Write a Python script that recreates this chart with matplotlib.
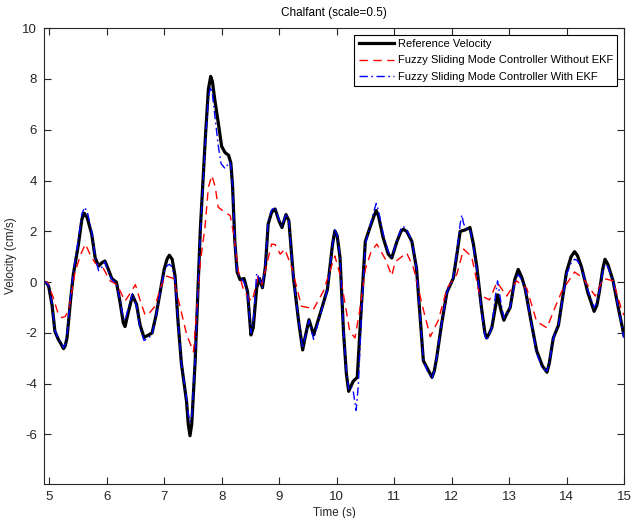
import numpy as np
import matplotlib
matplotlib.use('Agg')
import matplotlib.pyplot as plt

plt.rcParams['font.family'] = ['Liberation Sans', 'DejaVu Sans']
plt.rcParams['font.size'] = 8
plt.rcParams['axes.unicode_minus'] = False

# velocidad de referencia (tiempo, velocidad)
ref = [(4.90, 0.0), (4.95, -0.02), (4.99, -0.15), (5.05, -0.9), (5.10, -1.94), (5.16, -2.26),
       (5.21, -2.45), (5.25, -2.62), (5.28, -2.5), (5.31, -2.2), (5.37, -0.75), (5.42, 0.3),
       (5.51, 1.5), (5.57, 2.49), (5.61, 2.71), (5.66, 2.55), (5.74, 1.89), (5.80, 0.96),
       (5.86, 0.63), (5.92, 0.77), (5.97, 0.83), (6.03, 0.5), (6.09, 0.14), (6.17, 0.0),
       (6.23, -0.75), (6.29, -1.61), (6.32, -1.75), (6.38, -1.15), (6.45, -0.52), (6.52, -0.88),
       (6.58, -1.68), (6.65, -2.18), (6.73, -2.08), (6.79, -2.0), (6.86, -1.3), (6.93, -0.4),
       (7.00, 0.5), (7.05, 0.9), (7.09, 1.06), (7.14, 0.9), (7.19, 0.24), (7.24, -1.5),
       (7.30, -3.2), (7.39, -4.7), (7.42, -5.6), (7.45, -6.05), (7.48, -5.6), (7.54, -3.1),
       (7.63, 2.1), (7.72, 5.8), (7.77, 7.6), (7.81, 8.1), (7.84, 7.9), (7.88, 7.2),
       (7.94, 6.3), (8.00, 5.35), (8.06, 5.1), (8.12, 5.0), (8.16, 4.7), (8.19, 3.8),
       (8.23, 1.6), (8.27, 0.4), (8.32, 0.1), (8.39, 0.14), (8.45, -0.36), (8.51, -2.08),
       (8.55, -1.8), (8.61, -0.23), (8.66, 0.14), (8.71, -0.22), (8.76, 0.57), (8.81, 2.29),
       (8.87, 2.75), (8.93, 2.88), (9.00, 2.4), (9.05, 2.15), (9.12, 2.66), (9.17, 2.42),
       (9.25, 0.17), (9.34, -1.55), (9.41, -2.67), (9.45, -2.2), (9.52, -1.48), (9.60, -2.08),
       (9.71, -1.28), (9.84, -0.29), (9.93, 1.5), (9.97, 2.02), (10.01, 1.83), (10.06, 0.96),
       (10.12, -1.94), (10.17, -3.6), (10.21, -4.3), (10.25, -4.1), (10.29, -3.9), (10.36, -3.75),
       (10.43, -1.0), (10.50, 1.6), (10.58, 2.15), (10.65, 2.6), (10.69, 2.82), (10.73, 2.6),
       (10.81, 1.75), (10.90, 1.1), (10.96, 0.95), (11.05, 1.6), (11.12, 2.0), (11.16, 2.08),
       (11.22, 2.0), (11.31, 1.6), (11.39, 0.55), (11.51, -3.1), (11.58, -3.4), (11.66, -3.75),
       (11.70, -3.5), (11.74, -3.0), (11.83, -1.6), (11.92, -0.4), (12.03, 0.15), (12.10, 1.2),
       (12.15, 2.0), (12.23, 2.05), (12.32, 2.15), (12.38, 1.5), (12.44, 0.6), (12.52, -1.0),
       (12.58, -2.0), (12.61, -2.2), (12.65, -2.05), (12.70, -1.8), (12.80, -0.5), (12.86, -1.1),
       (12.91, -1.5), (12.95, -1.3), (13.02, -1.0), (13.10, 0.1), (13.16, 0.5), (13.22, 0.2),
       (13.28, -0.25), (13.38, -1.5), (13.48, -2.7), (13.58, -3.3), (13.66, -3.55), (13.70, -3.2),
       (13.77, -2.2), (13.86, -1.7), (14.00, 0.4), (14.08, 1.0), (14.14, 1.2), (14.19, 1.05),
       (14.26, 0.6), (14.37, -0.4), (14.48, -1.15), (14.53, -0.9), (14.57, -0.4), (14.63, 0.5),
       (14.67, 0.9), (14.72, 0.7), (14.81, 0.05), (14.90, -1.0), (15.00, -2.1)]

# controlador sin EKF
sin_ekf = [(4.90, 0.0), (4.97, 0.0), (5.07, -0.6), (5.15, -1.2), (5.22, -1.4), (5.28, -1.35),
           (5.34, -1.1), (5.45, 0.4), (5.55, 1.1), (5.63, 1.5), (5.71, 1.1), (5.80, 0.75),
           (5.94, 0.55), (6.06, 0.05), (6.18, -0.1), (6.32, -0.75), (6.42, -0.4), (6.50, -0.1),
           (6.58, -0.7), (6.67, -1.3), (6.75, -1.2), (6.84, -0.95), (6.94, -0.2), (7.02, 0.25),
           (7.16, 0.15), (7.28, -1.0), (7.39, -2.05), (7.51, -2.75), (7.57, -1.0), (7.63, 0.8),
           (7.71, 2.15), (7.77, 3.74), (7.83, 4.2), (7.89, 3.74), (7.94, 2.95), (8.06, 2.75),
           (8.15, 2.62), (8.21, 1.89), (8.29, 0.44), (8.38, -0.3), (8.47, -0.62), (8.53, -0.75),
           (8.64, 0.24), (8.70, -0.09), (8.87, 1.5), (8.93, 1.48), (9.02, 1.1), (9.10, 1.3),
           (9.22, 0.57), (9.39, -0.95), (9.54, -1.02), (9.59, -1.1), (9.77, -0.36), (9.97, 1.03),
           (10.06, 0.3), (10.23, -1.94), (10.32, -2.2), (10.40, -1.15), (10.50, 0.5), (10.60, 1.2),
           (10.70, 1.5), (10.85, 0.9), (10.96, 0.25), (11.02, 0.8), (11.22, 1.15), (11.34, 0.55),
           (11.50, -1.0), (11.63, -2.15), (11.77, -1.5), (11.92, -0.25), (12.09, 0.3), (12.21, 1.3),
           (12.35, 1.0), (12.49, -0.5), (12.66, -0.7), (12.79, 0.0), (12.96, -0.55), (13.13, 0.05),
           (13.31, -0.25), (13.48, -1.55), (13.66, -1.8), (13.80, -1.0), (13.92, -0.35), (14.14, 0.4),
           (14.29, 0.15), (14.50, -0.55), (14.64, 0.15), (14.81, 0.05), (14.96, -1.1), (15.00, -1.3)]

# controlador con EKF
con_ekf = [(4.90, 0.0), (4.95, -0.02), (4.99, -0.15), (5.05, -0.85), (5.10, -1.9), (5.16, -2.25),
           (5.21, -2.4), (5.25, -2.58), (5.28, -2.45), (5.31, -2.1), (5.37, -0.6), (5.42, 0.4),
           (5.51, 1.7), (5.57, 2.7), (5.62, 2.95), (5.67, 2.7), (5.74, 2.0), (5.80, 1.0),
           (5.86, 0.45), (5.92, 0.6), (5.97, 0.8), (6.03, 0.4), (6.09, 0.1), (6.17, -0.05),
           (6.23, -0.7), (6.29, -1.4), (6.32, -1.5), (6.38, -1.0), (6.45, -0.45), (6.52, -0.95),
           (6.58, -1.8), (6.65, -2.3), (6.73, -2.2), (6.79, -2.05), (6.86, -1.3), (6.93, -0.4),
           (7.00, 0.4), (7.05, 0.65), (7.09, 0.7), (7.14, 0.6), (7.19, 0.1), (7.24, -1.5),
           (7.30, -3.2), (7.39, -4.6), (7.42, -5.2), (7.45, -5.5), (7.48, -5.3), (7.54, -3.0),
           (7.63, 2.0), (7.72, 5.6), (7.77, 7.3), (7.81, 7.7), (7.84, 7.4), (7.88, 6.6),
           (7.94, 5.4), (7.99, 4.67), (8.06, 4.47), (8.14, 4.74), (8.16, 4.6), (8.19, 3.8),
           (8.23, 1.6), (8.27, 0.4), (8.32, 0.2), (8.39, 0.0), (8.45, -0.4), (8.51, -2.0),
           (8.55, -1.6), (8.61, 0.35), (8.66, 0.1), (8.71, -0.2), (8.76, 0.7), (8.81, 2.4),
           (8.87, 2.85), (8.93, 2.95), (9.00, 2.45), (9.05, 2.2), (9.12, 2.7), (9.17, 2.4),
           (9.25, 0.15), (9.34, -1.5), (9.41, -2.6), (9.45, -2.2), (9.52, -1.5), (9.60, -2.25),
           (9.71, -1.35), (9.84, -0.3), (9.93, 1.5), (9.97, 2.05), (10.01, 1.85), (10.06, 1.0),
           (10.12, -1.9), (10.17, -3.5), (10.21, -4.2), (10.25, -4.1), (10.29, -4.3), (10.34, -5.05),
           (10.38, -4.0), (10.43, -1.4), (10.50, 1.5), (10.58, 2.2), (10.65, 2.8), (10.69, 3.1),
           (10.73, 2.8), (10.81, 1.9), (10.90, 1.2), (10.96, 1.0), (11.05, 1.6), (11.12, 2.1),
           (11.16, 2.2), (11.22, 2.05), (11.31, 1.65), (11.39, 0.55), (11.51, -3.1), (11.58, -3.5),
           (11.66, -3.8), (11.70, -3.5), (11.74, -3.0), (11.83, -1.6), (11.92, -0.4), (12.03, 0.2),
           (12.10, 1.3), (12.15, 2.3), (12.18, 2.65), (12.21, 2.3), (12.26, 2.1), (12.32, 2.1),
           (12.38, 1.4), (12.44, 0.5), (12.52, -1.1), (12.58, -2.1), (12.61, -2.3), (12.65, -2.1),
           (12.70, -1.8), (12.76, -0.6), (12.80, 0.05), (12.86, -0.8), (12.91, -1.4), (12.95, -1.3),
           (13.02, -1.0), (13.10, 0.0), (13.16, 0.3), (13.22, 0.1), (13.28, -0.2), (13.38, -1.5),
           (13.48, -2.8), (13.58, -3.4), (13.66, -3.5), (13.70, -3.2), (13.77, -2.2), (13.86, -1.7),
           (14.00, 0.3), (14.08, 0.75), (14.14, 0.9), (14.19, 0.85), (14.26, 0.55), (14.37, -0.3),
           (14.48, -1.0), (14.53, -0.8), (14.57, -0.4), (14.63, 0.4), (14.67, 0.7), (14.72, 0.6),
           (14.81, 0.05), (14.90, -1.0), (15.00, -2.2)]

t_ref, v_ref = zip(*ref)
t_sin, v_sin = zip(*sin_ekf)
t_con, v_con = zip(*con_ekf)

gris = '#262626'

fig = plt.figure(figsize=(6.34, 5.18), dpi=100)
ax = fig.add_axes([0.0694, 0.0656, 0.9148, 0.880])

ax.plot(t_ref, v_ref, color='k', lw=2.3, solid_joinstyle='round', label='Reference Velocity')
ax.plot(t_sin, v_sin, color='r', lw=1, ls=(0, (6, 4)), dash_joinstyle='round',
        label='Fuzzy Sliding Mode Controller Without EKF')
ax.plot(t_con, v_con, color='b', lw=1, ls=(0, (6, 2.5, 1.2, 2.5)), dash_joinstyle='round',
        label='Fuzzy Sliding Mode Controller With EKF')

ax.set_xlim(4.91, 15)
ax.set_ylim(-7.95, 10)
ax.set_xticks(range(5, 16))
ax.set_yticks(range(-6, 11, 2))
ax.tick_params(direction='in', top=True, right=True, length=5, width=0.8,
               labelsize=9.5, colors=gris, pad=5)
for s in ax.spines.values():
    s.set_color(gris)
    s.set_linewidth(0.8)
ax.set_title('Chalfant (scale=0.5)', fontsize=8.5, pad=9, color='k')
ax.set_xlabel('Time (s)', fontsize=8.5, labelpad=3, color=gris)
ax.set_ylabel('Velocity (cm/s)', fontsize=8.5, labelpad=4, color=gris)

leg = ax.legend(loc='upper right', fontsize=8, handlelength=3.2, handletextpad=0.3,
                borderaxespad=0.6, borderpad=0.4, labelspacing=0.55, fancybox=False,
                framealpha=1, edgecolor='k')
leg.get_frame().set_linewidth(0.8)

plt.savefig('out.png', dpi=100)
